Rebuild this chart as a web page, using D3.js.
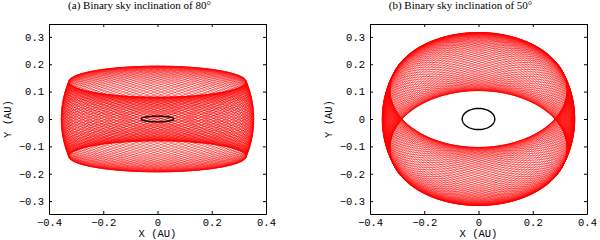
<!DOCTYPE html>
<html>
<head>
<meta charset="utf-8">
<script src="https://cdn.jsdelivr.net/npm/d3@7"></script>
<style>
    body { margin: 0; background: #fff; }
    svg { display: block; }
    .tick text { font-family: 'Liberation Mono', 'DejaVu Sans Mono', monospace; font-size: 10.5px; }
    .title { font-family: 'Liberation Serif', serif; font-size: 11px; }
    .label { font-family: 'Liberation Mono', monospace; font-size: 10.5px; }
</style>
</head>
<body>
<div id="chart"></div>
<script>
// panel titles and sky inclinations (deg) of the binary
const titles = ['(a) Binary sky inclination of 80\u00b0', '(b) Binary sky inclination of 50\u00b0'];
const skyInclinations = [80, 50];
// orbit parameters (AU, deg)
const binarySemiMajor = [0.06];
const planetRadius = [0.355];
const mutualInclination = [23];
const orbitCount = [85];
// axis ticks
const xTicks = [-0.4, -0.2, 0, 0.2, 0.4];
const yTicks = [-0.3, -0.2, -0.1, 0, 0.1, 0.2, 0.3];

const width = 600;
const height = 240;
const panelLeft = [49, 370];
const plotW = 217;
const plotTop = 24;
const plotH = 190;

const svg = d3.select('#chart').append('svg')
    .attr('width', width)
    .attr('height', height);

const rad = Math.PI / 180;
const fmt = (d) => (d === 0 ? '0' : d3.format('.1f')(d));

// planet orbit projected on the sky while its plane precesses round the binary's
const planetTrack = (incl) => {
    const ib = incl * rad;
    const dm = mutualInclination[0] * rad;
    const nb = [0, -Math.sin(ib), Math.cos(ib)];
    const e1 = [1, 0, 0];
    const e2 = [0, Math.cos(ib), Math.sin(ib)];
    const n = orbitCount[0];
    const perOrbit = 60;
    const steps = n * perOrbit;
    const pts = [];
    for (let k = 0; k <= steps; k++) {
        const t = (k / perOrbit) * 2 * Math.PI;
        const phi = (k / steps) * 2 * Math.PI;
        const np = [0, 1, 2].map((j) => Math.cos(dm) * nb[j] + Math.sin(dm) * (Math.cos(phi) * e1[j] + Math.sin(phi) * e2[j]));
        const u = [0, 1, 2].map((j) => -Math.sin(phi) * e1[j] + Math.cos(phi) * e2[j]);
        const v = [
            np[1] * u[2] - np[2] * u[1],
            np[2] * u[0] - np[0] * u[2],
            np[0] * u[1] - np[1] * u[0]
        ];
        const a = planetRadius[0];
        pts.push([a * (Math.cos(t) * u[0] + Math.sin(t) * v[0]), a * (Math.cos(t) * u[1] + Math.sin(t) * v[1])]);
    }
    return pts;
};

const binaryTrack = (incl) => d3.range(0, 361, 3).map((d) => [
    binarySemiMajor[0] * Math.cos(d * rad),
    binarySemiMajor[0] * Math.cos(incl * rad) * Math.sin(d * rad)
]);

titles.forEach((title, i) => {
    const x0 = panelLeft[i];
    const g = svg.append('g').attr('transform', 'translate(' + x0 + ',' + plotTop + ')');

    const xScale = d3.scaleLinear().domain([-0.4, 0.4]).range([0, plotW]);
    const yScale = d3.scaleLinear().domain([-0.347, 0.347]).range([plotH, 0]);

    const line = d3.line().x((d) => xScale(d[0])).y((d) => yScale(d[1]));

    const clipId = 'clip' + i;
    g.append('clipPath').attr('id', clipId)
        .append('rect').attr('width', plotW).attr('height', plotH);

    g.append('path')
        .attr('clip-path', 'url(#' + clipId + ')')
        .attr('d', line(planetTrack(skyInclinations[i])))
        .attr('fill', 'none')
        .attr('stroke', '#ff0000')
        .attr('stroke-width', 0.55);

    g.append('path')
        .attr('d', line(binaryTrack(skyInclinations[i])))
        .attr('fill', 'none')
        .attr('stroke', '#000')
        .attr('stroke-width', 1.4);

    // axes with inward ticks on every side
    const axes = [
        [d3.axisBottom(xScale).tickValues(xTicks).tickFormat(fmt), 'translate(0,' + plotH + ')'],
        [d3.axisTop(xScale).tickValues(xTicks).tickFormat(''), 'translate(0,0)'],
        [d3.axisLeft(yScale).tickValues(yTicks).tickFormat(fmt), 'translate(0,0)'],
        [d3.axisRight(yScale).tickValues(yTicks).tickFormat(''), 'translate(' + plotW + ',0)']
    ];
    axes.forEach(([axis, tr]) => {
        const a = g.append('g')
            .attr('transform', tr)
            .call(axis.tickSizeInner(-3).tickSizeOuter(0).tickPadding(5));
        a.select('.domain').attr('stroke', '#000').attr('stroke-width', 1);
    });

    svg.append('text')
        .attr('class', 'title')
        .attr('x', x0 + plotW / 2 - 18)
        .attr('y', 9)
        .attr('text-anchor', 'middle')
        .text(title);

    svg.append('text')
        .attr('class', 'label')
        .attr('x', x0 + plotW / 2)
        .attr('y', 237)
        .attr('text-anchor', 'middle')
        .text('X (AU)');

    svg.append('text')
        .attr('class', 'label')
        .attr('transform', 'translate(' + (x0 - 38) + ',' + (plotTop + plotH / 2) + ') rotate(-90)')
        .attr('text-anchor', 'middle')
        .text('Y (AU)');
});
</script>
</body>
</html>
